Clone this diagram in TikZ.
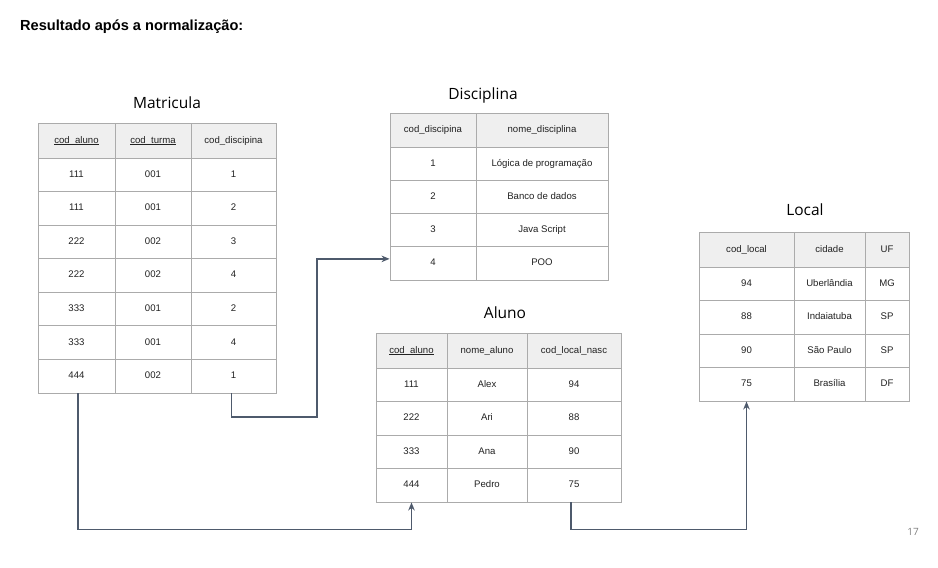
\documentclass[tikz,border=0pt]{standalone}
\usepackage{fontspec}
\setmainfont{Liberation Sans}
\newfontfamily\titlefont{Open Sans}
\usetikzlibrary{arrows.meta}
\definecolor{cellline}{HTML}{ABABAB}
\definecolor{headfill}{HTML}{EFEFEF}
\definecolor{conncol}{HTML}{4E5A6C}
\definecolor{celltext}{HTML}{222222}
\definecolor{pagegray}{HTML}{808080}
\newcommand\keyul[1]{\setbox0\hbox{#1}\rlap{\rule[-1.7pt]{\wd0}{0.6pt}}\box0}
\tikzset{
  cellbox/.style={draw=cellline, line width=0.9pt, inner sep=0pt, text=celltext,
    text height=7pt, text depth=2pt,
    font=\fontsize{9.6}{11}\selectfont},
  headbox/.style={cellbox, fill=headfill},
  tabletitle/.style={font=\titlefont\fontsize{15.5}{18}\selectfont, text=black, inner sep=0pt},
  connline/.style={draw=conncol, line width=1.3pt, -{Stealth[length=8pt,width=6.5pt,inset=2.5pt]}}
}
% #1 prefix, #2 row index, #3 y top, #4 y bottom, #5 style, #6 list xa/xb/text
\newcommand\trow[6]{%
  \foreach \xa/\xb/\txt [count=\j] in {#6} {
    \node[#5, minimum width={(\xb-\xa)*1pt}, minimum height={(#4-#3)*1pt}]
      (#1-#2-\j) at ({(\xa+\xb)/2},{(#3+#4)/2}) {\txt};
  }%
}
\begin{document}
\begin{tikzpicture}[x=1pt,y=-1pt]
\useasboundingbox[fill=white] (0,0) rectangle (938,568);

\node[anchor=west, inner sep=0pt, font=\bfseries\fontsize{14.6}{16}\selectfont] (maintitle) at (20,27) {Resultado após a normalização:};

% ---------- Matricula ----------
\node[tabletitle] (tm) at (167,103) {Matricula};
\trow{m}{1}{123}{158}{headbox}{38/115/\keyul{cod\_aluno}, 115/191/\keyul{cod\_turma}, 191/276/cod\_discipina}
\foreach \va/\vb/\vc [count=\i from 2] in {111/001/1, 111/001/2, 222/002/3, 222/002/4, 333/001/2, 333/001/4, 444/002/1} {
  \pgfmathsetmacro\yt{158+(\i-2)*33.57}
  \pgfmathsetmacro\yb{158+(\i-1)*33.57}
  \trow{m}{\i}{\yt}{\yb}{cellbox}{38/115/\va, 115/191/\vb, 191/276/\vc}
}

% ---------- Disciplina ----------
\node[tabletitle] (td) at (483,95) {Disciplina};
\trow{d}{1}{113}{147}{headbox}{390/476/cod\_discipina, 476/608/nome\_disciplina}
\foreach \va/\vb [count=\i from 2] in {1/Lógica de programação, 2/Banco de dados, 3/Java Script, 4/POO} {
  \pgfmathsetmacro\yt{147+(\i-2)*33.25}
  \pgfmathsetmacro\yb{147+(\i-1)*33.25}
  \trow{d}{\i}{\yt}{\yb}{cellbox}{390/476/\va, 476/608/\vb}
}

% ---------- Aluno ----------
\node[tabletitle] (ta) at (505,313) {Aluno};
\trow{a}{1}{333}{368}{headbox}{376/447/\keyul{cod\_aluno}, 447/527/nome\_aluno, 527/621/cod\_local\_nasc}
\foreach \va/\vb/\vc [count=\i from 2] in {111/Alex/94, 222/Ari/88, 333/Ana/90, 444/Pedro/75} {
  \pgfmathsetmacro\yt{368+(\i-2)*33.5}
  \pgfmathsetmacro\yb{368+(\i-1)*33.5}
  \trow{a}{\i}{\yt}{\yb}{cellbox}{376/447/\va, 447/527/\vb, 527/621/\vc}
}

% ---------- Local ----------
\node[tabletitle] (tl) at (805,210) {Local};
\trow{l}{1}{232}{267}{headbox}{699/794/cod\_local, 794/865/cidade, 865/909/UF}
\foreach \va/\vb/\vc [count=\i from 2] in {94/Uberlândia/MG, 88/Indaiatuba/SP, 90/São Paulo/SP, 75/Brasília/DF} {
  \pgfmathsetmacro\yt{267+(\i-2)*33.5}
  \pgfmathsetmacro\yb{267+(\i-1)*33.5}
  \trow{l}{\i}{\yt}{\yb}{cellbox}{699/794/\va, 794/865/\vb, 865/909/\vc}
}

% ---------- connectors ----------
\draw[connline] ([xshift=-2pt]m-8-3.south) |- (317,417) |- ([yshift=4.5pt]d-5-1.west);
\draw[connline] ([xshift=1.5pt]m-8-1.south) -- ++(0,136) -| (a-5-1.south);
\draw[connline] ([xshift=-3pt]a-5-3.south) -- ++(0,27) -| (l-5-1.south);

\node[font=\titlefont\fontsize{10}{12}\selectfont, text=pagegray, inner sep=0pt] (pagenum) at (913,532) {17};
\end{tikzpicture}
\end{document}
